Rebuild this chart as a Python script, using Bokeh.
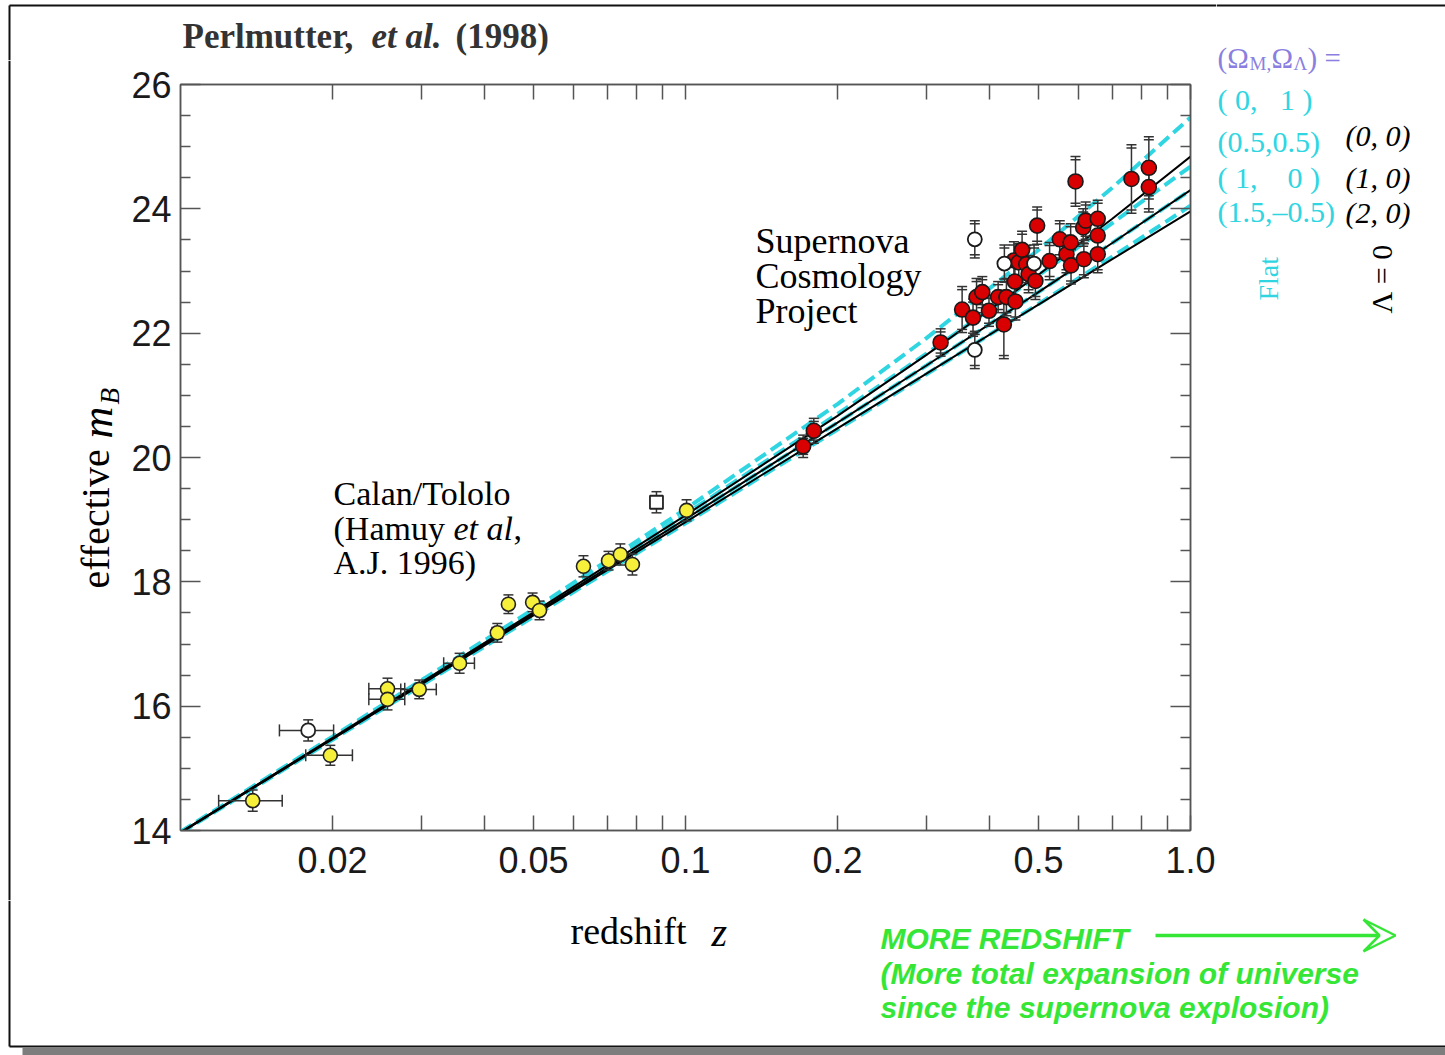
import math
from bokeh.plotting import figure
from bokeh.layouts import column, row
from bokeh.models import (Range1d, LogAxis, LinearAxis, FixedTicker, Arrow, VeeHead,
                          CustomJSTickFormatter)
from bokeh.core.properties import value
from bokeh.embed import file_html
from bokeh.resources import INLINE

# ---------------- data ----------------
model_z = [0.01, 0.02, 0.05, 0.1, 0.2, 0.3, 0.5, 0.7, 1.0]
# flat models (Omega_M, Omega_Lambda)
flat_0_1 = [13.98, 15.51, 17.56, 19.17, 20.86, 21.92, 23.34, 24.34, 25.47]
flat_05_05 = [13.97, 15.49, 17.52, 19.09, 20.70, 21.67, 22.93, 23.77, 24.68]
flat_1_0 = [13.97, 15.48, 17.48, 19.01, 20.56, 21.48, 22.66, 23.45, 24.30]
flat_15_m05 = [13.96, 15.46, 17.44, 18.94, 20.45, 21.34, 22.47, 23.23, 24.05]
# Lambda = 0 models
lam0_0_0 = [13.97, 15.49, 17.51, 19.07, 20.67, 21.65, 22.94, 23.84, 24.84]
lam0_1_0 = [13.97, 15.48, 17.48, 19.01, 20.56, 21.48, 22.66, 23.45, 24.30]
lam0_2_0 = [13.96, 15.47, 17.46, 18.96, 20.47, 21.35, 22.46, 23.19, 23.96]

# Calan/Tololo (filled yellow)
ct_z = [0.0139, 0.0198, 0.0257, 0.0257, 0.0297, 0.0357, 0.0424, 0.0446, 0.0498, 0.0514,
        0.0628, 0.0704, 0.0743, 0.0785, 0.1005]
ct_m = [14.48, 15.21, 16.28, 16.11, 16.27, 16.69, 17.18, 17.64, 17.67, 17.54,
        18.25, 18.34, 18.44, 18.28, 19.15]
ct_zerr = [0.0020, 0.0021, 0.0021, 0.0021, 0.0024, 0.0025, 0.0010, 0.0008, 0.0008, 0.0008,
           0.0, 0.0, 0.0, 0.0, 0.0]
ct_merr = [0.17, 0.16, 0.17, 0.17, 0.15, 0.16, 0.15, 0.15, 0.15, 0.15,
           0.17, 0.15, 0.17, 0.17, 0.17]
# Calan/Tololo excluded (open)
cto_z = [0.0179]
cto_m = [15.61]
cto_zerr = [0.0022]
cto_merr = [0.17]
ctsq_z = [0.0876]
ctsq_m = [19.28]
ctsq_merr = [0.17]

# Supernova Cosmology Project (filled red)
scp_z = [0.171, 0.1795, 0.320, 0.353, 0.371, 0.377, 0.387, 0.399, 0.416, 0.427, 0.432,
         0.447, 0.449, 0.450, 0.457, 0.464, 0.473, 0.478, 0.493, 0.497, 0.526, 0.551,
         0.568, 0.579, 0.580, 0.592, 0.613, 0.615, 0.620, 0.655, 0.655, 0.655, 0.764,
         0.827, 0.827]
scp_m = [20.18, 20.43, 21.85, 22.38, 22.25, 22.58, 22.66, 22.36, 22.58, 22.14, 22.58,
         23.17, 22.83, 22.51, 23.14, 23.34, 23.11, 22.95, 22.84, 23.73, 23.16, 23.51,
         23.27, 23.46, 23.09, 24.44, 23.70, 23.19, 23.81, 23.84, 23.57, 23.27, 24.48,
         24.66, 24.35]
scp_err = [0.18, 0.20, 0.22, 0.37, 0.30, 0.30, 0.25, 0.25, 0.25, 0.55, 0.30,
           0.30, 0.30, 0.30, 0.30, 0.30, 0.30, 0.30, 0.30, 0.30, 0.30, 0.30,
           0.30, 0.30, 0.30, 0.40, 0.30, 0.30, 0.30, 0.30, 0.30, 0.30, 0.55,
           0.50, 0.40]
# SCP excluded (open)
scpo_z = [0.374, 0.374, 0.428, 0.490]
scpo_m = [23.51, 21.73, 23.12, 23.12]
scpo_err = [0.30, 0.30, 0.30, 0.30]

x_ticks = [0.02, 0.05, 0.1, 0.2, 0.5, 1.0]
x_minor = [0.03, 0.04, 0.06, 0.07, 0.08, 0.09, 0.3, 0.4, 0.6, 0.7, 0.8, 0.9]
y_ticks = [14, 16, 18, 20, 22, 24, 26]
y_minor = [14.5, 15, 15.5, 16.5, 17, 17.5, 18.5, 19, 19.5, 20.5, 21, 21.5,
           22.5, 23, 23.5, 24.5, 25, 25.5]

# ---------------- geometry (canvas pixels) ----------------
W, H = 1445, 1055
FL, FR, FT, FB = 180, 1190, 84, 830          # plot frame
TOP_H = 60                                     # strip above main figure (left part)
BOT_Y = 900                                    # strip below everything
LEFT_W = 126                                   # strip left of main figure
RIGHT_X = 1216                                 # strip right of main figure (full height)
XMIN, XMAX, YMIN, YMAX = 0.01, 1.0, 14.0, 26.0

SERIF = "Liberation Serif"
SANS = "Liberation Sans"
CYAN = "#2fd6e2"
GREEN = "#36e636"
PURPLE = "#8a7fe0"
FRAME = "#111111"

# ---------------- main figure ----------------
p = figure(width=RIGHT_X - LEFT_W, height=BOT_Y - TOP_H, x_axis_type="log",
           output_backend="svg", toolbar_location=None,
           x_range=Range1d(XMIN, XMAX), y_range=Range1d(YMIN, YMAX),
           min_border_left=FL - LEFT_W, min_border_right=RIGHT_X - FR,
           min_border_top=FT - TOP_H, min_border_bottom=BOT_Y - FB)
p.frame_align = False
p.grid.visible = False
p.outline_line_color = "#555555"
p.outline_line_width = 1.5

fmt = CustomJSTickFormatter(code="return tick < 0.1 ? tick.toFixed(2) : tick.toFixed(1);")
blank = CustomJSTickFormatter(code="return '';")
xt = FixedTicker(ticks=x_ticks, minor_ticks=x_minor)
yt = FixedTicker(ticks=y_ticks, minor_ticks=y_minor)


def style_axis(ax, show_labels, tick_len, minor_len, standoff=8):
    ax.axis_line_color = "#555555"
    ax.axis_line_width = 1.5
    ax.major_tick_line_color = "#555555"
    ax.minor_tick_line_color = "#555555"
    ax.major_tick_line_width = 1.5
    ax.minor_tick_line_width = 1.5
    ax.major_tick_in = tick_len
    ax.major_tick_out = 0
    ax.minor_tick_in = minor_len
    ax.minor_tick_out = 0
    ax.major_label_standoff = standoff
    if show_labels:
        ax.major_label_text_font = SANS
        ax.major_label_text_font_size = "36px"
        ax.major_label_text_color = "#1a1a1a"
    else:
        ax.formatter = blank
        ax.major_label_text_font_size = "1px"


xa = p.xaxis[0]
xa.ticker = xt
xa.formatter = fmt
style_axis(xa, True, 15, 15, 16)
ya = p.yaxis[0]
ya.ticker = yt
style_axis(ya, True, 20, 10, 9)

top = LogAxis(ticker=xt)
style_axis(top, False, 15, 15, 0)
p.add_layout(top, "above")
right = LinearAxis(ticker=yt)
style_axis(right, False, 20, 10, 0)
p.add_layout(right, "right")

# model curves
for ys in (flat_15_m05, flat_1_0, flat_05_05, flat_0_1):
    p.line(model_z, ys, line_color=CYAN, line_width=4, line_dash="13 6")
for ys in (lam0_2_0, lam0_1_0, lam0_0_0):
    p.line(model_z, ys, line_color="black", line_width=2)

EB = "#333333"


def vbars(z, m, err, double=False, cap=10):
    lo = [a - e for a, e in zip(m, err)]
    up = [a + e for a, e in zip(m, err)]
    p.segment(x0=z, y0=lo, x1=z, y1=up, line_color=EB, line_width=1.5)
    p.scatter(x=z + z, y=lo + up, marker="dash", size=cap, line_color=EB, line_width=1.5)
    if double:
        lo2 = [a - e + 0.05 for a, e in zip(m, err)]
        up2 = [a + e - 0.05 for a, e in zip(m, err)]
        p.scatter(x=z + z, y=lo2 + up2, marker="dash", size=cap, line_color=EB, line_width=1.5)


def hbars(z, m, zerr, cap=12):
    zz = [a for a, e in zip(z, zerr) if e > 0]
    mm = [b for b, e in zip(m, zerr) if e > 0]
    ee = [e for e in zerr if e > 0]
    lo = [a - e for a, e in zip(zz, ee)]
    hi = [a + e for a, e in zip(zz, ee)]
    p.segment(x0=lo, y0=mm, x1=hi, y1=mm, line_color=EB, line_width=1.5)
    p.scatter(x=lo + hi, y=mm + mm, marker="dash", angle=math.pi / 2, size=cap,
              line_color=EB, line_width=1.5)


vbars(ct_z, ct_m, ct_merr)
hbars(ct_z, ct_m, ct_zerr)
vbars(cto_z, cto_m, cto_merr)
hbars(cto_z, cto_m, cto_zerr)
vbars(ctsq_z, ctsq_m, ctsq_merr)
vbars(scp_z, scp_m, scp_err, double=True)
vbars(scpo_z, scpo_m, scpo_err, double=True)

p.scatter(ct_z, ct_m, marker="circle", size=14, fill_color="#f7f03a", line_color="#222222",
          line_width=1.6)
p.scatter(cto_z, cto_m, marker="circle", size=14, fill_color="white", line_color="#222222",
          line_width=1.8)
p.scatter(ctsq_z, ctsq_m, marker="square", size=13, fill_color="white", line_color="#222222",
          line_width=1.8)
p.scatter(scp_z, scp_m, marker="circle", size=15, fill_color="#d80000", line_color="#1a1a1a",
          line_width=1.6)
p.scatter(scpo_z, scpo_m, marker="circle", size=14, fill_color="white", line_color="#1a1a1a",
          line_width=1.8)


def X(px):
    return 10 ** (math.log10(XMIN) + (px - FL) / (FR - FL) * (math.log10(XMAX) - math.log10(XMIN)))


def Y(py):
    return YMIN + (FB - py) / (FB - FT) * (YMAX - YMIN)


def ptxt(px, py, text, size, style="normal"):
    p.text(x=[X(px)], y=[Y(py)], text=[text], text_font=value(SERIF),
           text_font_size=value(f"{size}px"), text_font_style=style, text_color="black",
           text_align="left", text_baseline="middle")


ptxt(755, 240, "Supernova", 36)
ptxt(755, 275, "Cosmology", 36)
ptxt(755, 310, "Project", 36)
ptxt(333, 493, "Calan/Tololo", 34)
ptxt(333, 528, "(Hamuy", 34)
ptxt(453, 528, "et al", 34, style="italic")
ptxt(513, 528, ",", 34)
ptxt(333, 562, "A.J. 1996)", 34)


# ---------------- text strips (coordinates are canvas pixels) ----------------
def strip(x0, x1, y0, y1):
    f = figure(width=x1 - x0, height=y1 - y0, x_range=Range1d(x0, x1),
               y_range=Range1d(y1, y0), output_backend="svg", toolbar_location=None,
               x_axis_location=None, y_axis_location=None, min_border=0)
    f.frame_align = False
    f.outline_line_color = None
    f.grid.visible = False
    return f


top_f = strip(0, RIGHT_X, 0, TOP_H)
left_f = strip(0, LEFT_W, TOP_H, BOT_Y)
right_f = strip(RIGHT_X, W, 0, BOT_Y)
bot_f = strip(0, W, BOT_Y, H)


def txt(f, px, py, text, size, font=SERIF, style="normal", color="black", angle=0.0):
    f.text(x=[px], y=[py], text=[text], text_font=value(font),
           text_font_size=value(f"{size}px"), text_font_style=style, text_color=color,
           text_align="left", text_baseline="middle", angle=angle)


# title
txt(top_f, 182, 36, "Perlmutter,", 35, style="bold", color="#333333")
txt(top_f, 371, 36, "et al.", 35, style="bold italic", color="#333333")
txt(top_f, 455, 36, "(1998)", 35, style="bold", color="#333333")

# axis labels
txt(bot_f, 570, 930, "redshift", 38)
txt(bot_f, 711, 932, "z", 40, style="italic")
txt(left_f, 95, 588, "effective", 40, angle=math.pi / 2)
txt(left_f, 97, 438, "m", 44, style="italic", angle=math.pi / 2)
txt(left_f, 109, 404, "B", 27, style="italic", angle=math.pi / 2)

# model legend
txt(right_f, 1217, 57, "(\u03a9", 29, color=PURPLE)
txt(right_f, 1249, 63, "M,", 19, color=PURPLE)
txt(right_f, 1271, 57, "\u03a9", 29, color=PURPLE)
txt(right_f, 1293, 63, "\u039b", 19, color=PURPLE)
txt(right_f, 1307, 57, ")\u00a0=", 29, color=PURPLE)
txt(right_f, 1217, 99, "(\u00a00,\u00a0\u00a0\u00a01\u00a0)", 30, color=CYAN)
txt(right_f, 1217, 141, "(0.5,0.5)", 30, color=CYAN)
txt(right_f, 1217, 177, "(\u00a01,\u00a0\u00a0\u00a0\u00a00\u00a0)", 30, color=CYAN)
txt(right_f, 1217, 211, "(1.5,\u20130.5)", 30, color=CYAN)
txt(right_f, 1345, 135, "(0,\u00a00)", 30, style="italic")
txt(right_f, 1345, 177, "(1,\u00a00)", 30, style="italic")
txt(right_f, 1345, 212, "(2,\u00a00)", 30, style="italic")
txt(right_f, 1268, 300, "Flat", 28, color=CYAN, angle=math.pi / 2)
txt(right_f, 1381, 313, "\u039b\u00a0=\u00a00", 30, angle=math.pi / 2)

# green note
txt(bot_f, 880, 938, "MORE REDSHIFT", 30, font=SANS, style="bold italic", color=GREEN)
txt(bot_f, 880, 973, "(More total expansion of universe", 30, font=SANS,
    style="bold italic", color=GREEN)
txt(bot_f, 880, 1007, "since the supernova explosion)", 30, font=SANS,
    style="bold italic", color=GREEN)
bot_f.add_layout(Arrow(x_start=1155, y_start=935, x_end=1395, y_end=935,
                       line_color=GREEN, line_width=3.5,
                       end=VeeHead(size=32, fill_color="white", line_color=GREEN,
                                   line_width=2.5)))

# page frame pieces
top_f.segment(x0=[9, 9], y0=[5, 5], x1=[RIGHT_X, 9], y1=[5, TOP_H], line_color=FRAME,
              line_width=2)
right_f.segment(x0=[RIGHT_X], y0=[5], x1=[W], y1=[5], line_color=FRAME, line_width=2)
left_f.segment(x0=[9], y0=[TOP_H], x1=[9], y1=[BOT_Y], line_color=FRAME, line_width=2)
bot_f.segment(x0=[9, 9], y0=[BOT_Y, 1046], x1=[9, W], y1=[1046, 1046], line_color=FRAME,
              line_width=2)
bot_f.quad(left=[22], right=[W], top=[1047], bottom=[H], fill_color="#7d7d7d",
           line_color=None)

layout = column(row(column(top_f, row(left_f, p, spacing=0), spacing=0), right_f, spacing=0),
                bot_f, spacing=0)
open("out.html", "w").write(file_html(layout, INLINE))
